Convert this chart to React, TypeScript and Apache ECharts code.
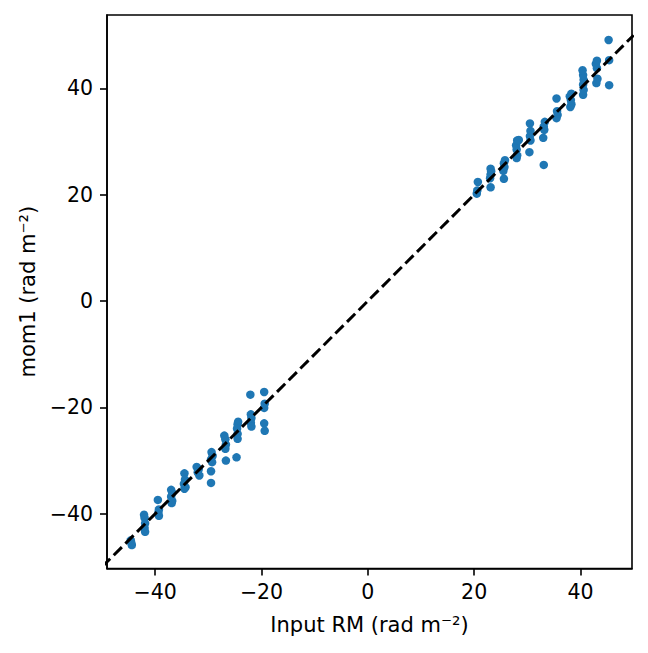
import React, { useEffect, useRef } from "react";
import * as echarts from "echarts";

const inputRM: number[] = [
  -44.6, -44.4, -44.5,
  -42.1, -42.0, -41.9, -42.0, -41.9,
  -39.5, -39.3, -39.4, -39.3,
  -37.0, -36.8, -37.0, -36.8, -36.9,
  -34.5, -34.4, -34.6, -34.3, -34.5,
  -32.2, -31.8, -32.0, -31.7,
  -29.4, -29.2, -29.5, -29.3, -29.5, -29.5,
  -27.0, -26.8, -26.7, -26.8, -26.7,
  -24.4, -24.5, -24.6, -24.5, -24.5, -24.7,
  -22.1, -22.0, -21.9, -22.0, -21.9,
  -19.5, -19.4, -19.5, -19.5, -19.4,
  20.5, 20.6, 20.7,
  23.1, 23.0, 23.1, 23.2, 23.1,
  25.6, 25.5, 25.7, 25.6, 25.8,
  28.0, 28.1, 28.0, 27.9, 28.1, 28.4,
  30.4, 30.6, 30.5, 30.6, 30.5,
  33.1, 33.0, 33.2, 33.1, 33.3,
  35.5, 35.7, 35.6, 35.5,
  38.1, 38.3, 38.2, 38.0, 38.3,
  40.5, 40.6, 40.5, 40.6, 40.5, 40.4,
  43.0, 43.2, 43.1, 42.9, 43.1,
  45.4, 45.4, 45.3,
];

const mom1: number[] = [
  -45.0, -45.9, -45.5,
  -40.2, -40.8, -41.8, -42.7, -43.4,
  -37.4, -39.2, -39.8, -40.4,
  -35.5, -36.1, -36.8, -37.6, -38.0,
  -32.4, -33.6, -34.4, -35.0, -35.3,
  -31.2, -31.6, -32.2, -32.8,
  -28.4, -29.1, -29.8, -30.3, -32.0, -34.2,
  -25.3, -26.0, -27.0, -27.8, -30.0,
  -22.7, -23.2, -24.0, -25.0, -25.9, -29.4,
  -17.6, -21.3, -22.0, -22.9, -23.6,
  -17.1, -19.3, -20.1, -23.0, -24.4,
  20.2, 20.8, 22.4,
  21.4, 23.1, 23.8, 24.4, 24.9,
  23.0, 24.5, 25.2, 25.9, 26.5,
  26.9, 27.4, 28.5, 29.3, 30.2, 30.3,
  28.0, 30.2, 31.0, 32.0, 33.4,
  25.6, 30.7, 32.2, 32.8, 33.7,
  34.4, 35.0, 35.7, 38.1,
  36.5, 37.0, 37.8, 38.5, 39.0,
  38.8, 39.7, 40.7, 41.6, 42.5, 43.4,
  41.0, 41.8, 43.8, 44.6, 45.2,
  40.6, 45.3, 49.1,
];

const oneToOneLine: number[][] = [
  [-50, -50],
  [50, 50],
];

const xTicks: number[] = [-40, -20, 0, 20, 40];
const yTicks: number[] = [-40, -20, 0, 20, 40];

const xMin = -49.07;
const xMax = 49.7;
const yMin = -50.3;
const yMax = 53.8;

const FONT = "DejaVu Sans";

function fmt(v: number): string {
  return v < 0 ? "\u2212" + Math.abs(v) : String(v);
}

export default function App() {
  const ref = useRef<HTMLDivElement>(null);

  useEffect(() => {
    if (!ref.current) return;
    const chart = echarts.init(ref.current, null, { renderer: "svg" });
    const points = inputRM.map((x, i) => [x, mom1[i]]);
    const axisCommon = {
      type: "value" as const,
      axisLine: { show: true, onZero: false, lineStyle: { color: "#000", width: 1.6 } },
      axisTick: {
        show: true,
        length: 7,
        inside: false,
        lineStyle: { color: "#000", width: 1.6 },
      },
      splitLine: { show: false },
    };
    chart.setOption({
      animation: false,
      backgroundColor: "#fff",
      grid: {
        left: 107,
        right: 16,
        top: 15,
        bottom: 84.5,
        show: true,
        borderColor: "#000",
        borderWidth: 1.6,
        backgroundColor: "transparent",
      },
      xAxis: {
        ...axisCommon,
        min: xMin,
        max: xMax,
        axisTick: { ...axisCommon.axisTick, customValues: xTicks },
        axisLabel: {
          customValues: xTicks,
          formatter: (v: number) => fmt(v),
          color: "#000",
          fontFamily: FONT,
          fontSize: 20.5,
          margin: 13,
        },
        name: "Input RM (rad m\u207B\u00B2)",
        nameLocation: "middle",
        nameGap: 46,
        nameTextStyle: { color: "#000", fontFamily: FONT, fontSize: 21 },
      },
      yAxis: {
        ...axisCommon,
        min: yMin,
        max: yMax,
        axisTick: { ...axisCommon.axisTick, customValues: yTicks },
        axisLabel: {
          customValues: yTicks,
          formatter: (v: number) => fmt(v),
          color: "#000",
          fontFamily: FONT,
          fontSize: 20.5,
          margin: 14,
        },
        name: "mom1 (rad m\u207B\u00B2)",
        nameLocation: "middle",
        nameGap: 67,
        nameTextStyle: { color: "#000", fontFamily: FONT, fontSize: 21 },
      },
      series: [
        {
          type: "scatter",
          data: points,
          symbol: "circle",
          symbolSize: 8.5,
          itemStyle: { color: "#1f77b4", opacity: 1 },
          z: 2,
        },
        {
          type: "line",
          data: oneToOneLine,
          showSymbol: false,
          symbol: "none",
          clip: true,
          lineStyle: { color: "#000", width: 3, type: [11.5, 5] },
          z: 3,
        },
      ],
    });
    return () => chart.dispose();
  }, []);

  return (
    <div
      ref={ref}
      style={{ position: "fixed", left: 0, top: 0, width: 648, height: 653 }}
    />
  );
}
